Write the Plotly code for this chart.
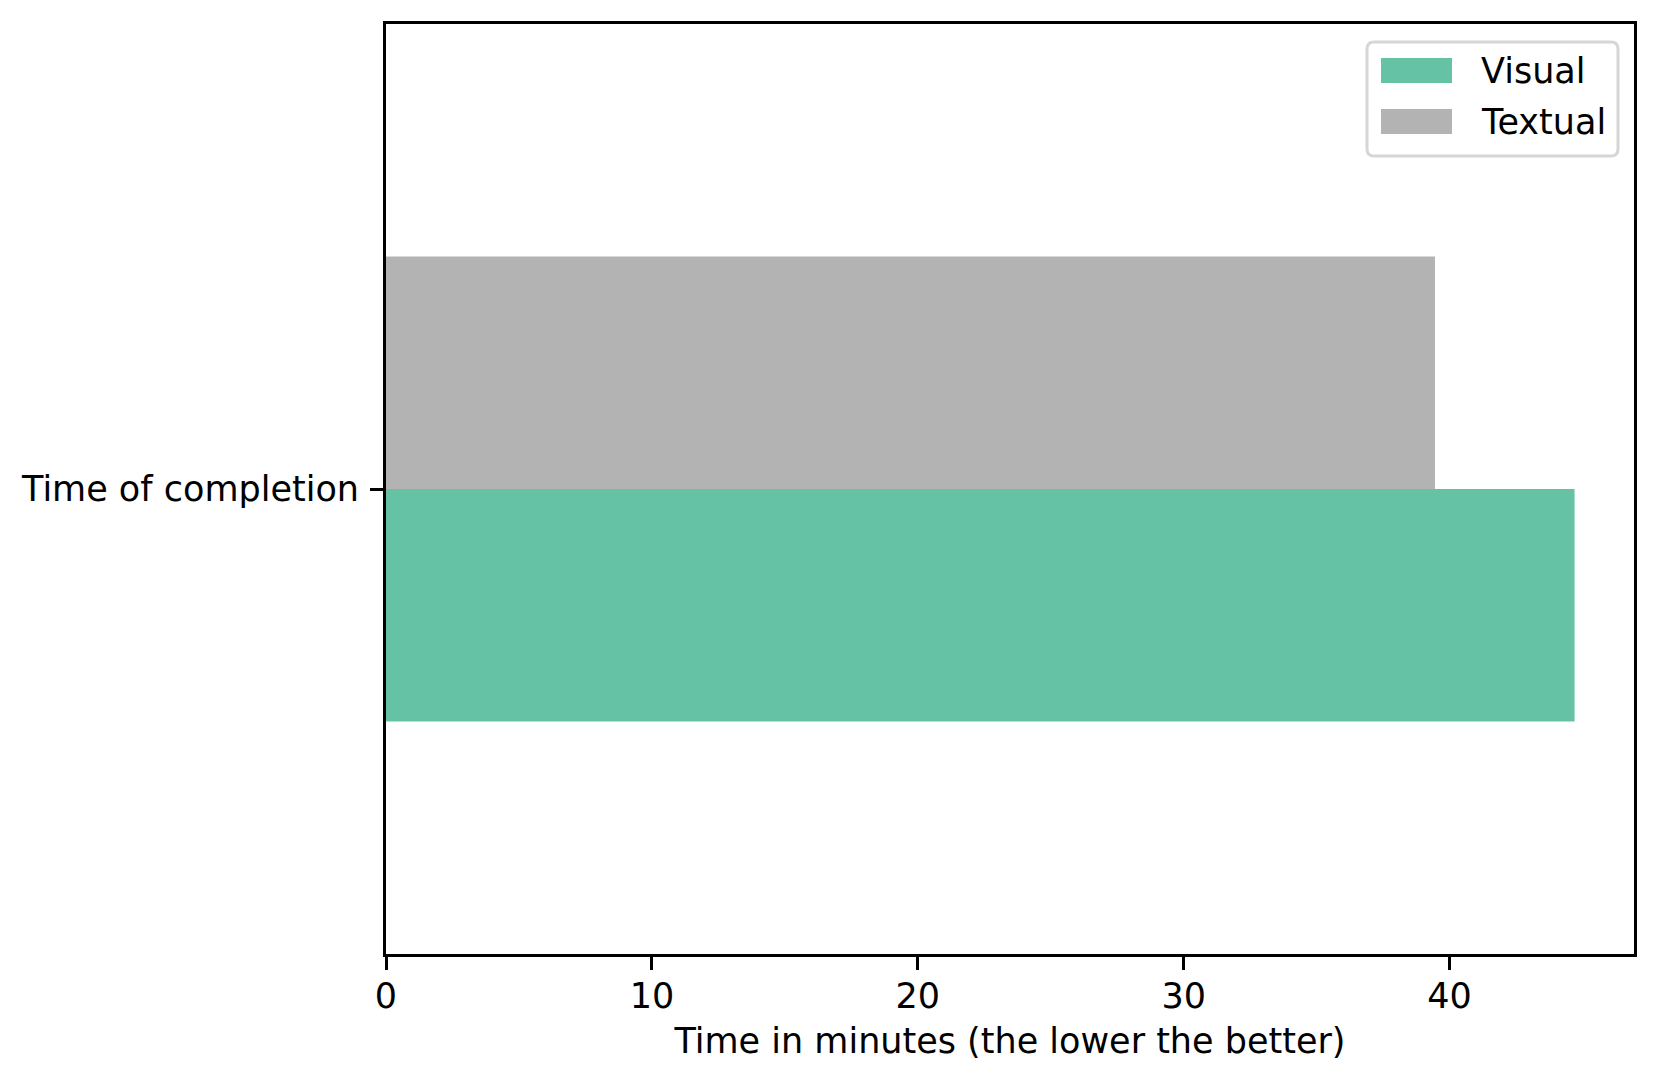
import plotly.graph_objects as go

categories = ["Time of completion"]
series_names = ["Visual", "Textual"]
visual_minutes = [44.7]
textual_minutes = [39.45]
colors = ["#66c2a5", "#b3b3b3"]

FONT = "DejaVu Sans"
FS = 35
W, H = 1660, 1087
OFF = 8  # page body margin pushes the plot down/right
L, R, T, B = 386 - OFF, 26 + OFF, 24 - OFF, 133 + OFF
PW, PH = W - L - R, H - T - B


def px_x(x):
    return (x - OFF - L) / PW


def px_y(y):
    return (H - B - (y - OFF)) / PH


def rounded_rect(x0, y0, x1, y1, r=7):
    # path in paper coords, corners given in page pixels
    rx, ry = r / PW, r / PH
    a, b, c, d = px_x(x0), px_y(y1), px_x(x1), px_y(y0)
    return (f"M{a + rx},{b} L{c - rx},{b} Q{c},{b} {c},{b + ry} "
            f"L{c},{d - ry} Q{c},{d} {c - rx},{d} L{a + rx},{d} "
            f"Q{a},{d} {a},{d - ry} L{a},{b + ry} Q{a},{b} {a + rx},{b} Z")


fig = go.Figure()
for name, vals, col in zip(series_names, [visual_minutes, textual_minutes], colors):
    fig.add_trace(go.Bar(y=categories, x=vals, name=name, orientation="h",
                         marker=dict(color=col, line=dict(width=0)),
                         showlegend=False))

max_val = max(visual_minutes + textual_minutes)

fig.update_layout(
    width=W, height=H,
    margin=dict(l=L, r=R, t=T, b=B, autoexpand=False),
    paper_bgcolor="white", plot_bgcolor="white",
    font=dict(family=FONT, size=FS, color="black"),
    barmode="group", bargap=0.5, bargroupgap=0,
    xaxis=dict(range=[0, max_val * 1.05], dtick=10, showgrid=False, zeroline=False,
               showline=True, linecolor="black", linewidth=3, mirror=True,
               ticks="outside", ticklen=13, tickwidth=3, tickcolor="black",
               ticklabelstandoff=-4,
               title=dict(text="Time in minutes (the lower the better)", standoff=14,
                          font=dict(family=FONT, size=FS, color="black"))),
    yaxis=dict(range=[-0.5, 0.5], showgrid=False, zeroline=False,
               showline=True, linecolor="black", linewidth=3, mirror=True,
               ticks="outside", ticklen=13, tickwidth=3, tickcolor="black",
               ticklabelstandoff=4),
)

# legend drawn by hand so the swatches match the wide matplotlib patches
shapes = [dict(type="path", xref="paper", yref="paper",
               path=rounded_rect(1367, 42, 1618, 156),
               fillcolor="rgba(255,255,255,0.8)", line=dict(color="#d6d6d6", width=3))]
swatch_y = [(58, 83), (109, 134)]
annotations = []
for name, col, (y0, y1) in zip(series_names, colors, swatch_y):
    shapes.append(dict(type="rect", xref="paper", yref="paper",
                       x0=px_x(1381), x1=px_x(1452), y0=px_y(y1), y1=px_y(y0),
                       fillcolor=col, line=dict(width=0)))
    annotations.append(dict(text=name, xref="paper", yref="paper",
                            x=px_x(1479), y=px_y((y0 + y1) / 2), xanchor="left",
                            yanchor="middle", showarrow=False,
                            font=dict(family=FONT, size=FS, color="black")))
fig.update_layout(shapes=shapes, annotations=annotations)

fig.write_html("out.html")
